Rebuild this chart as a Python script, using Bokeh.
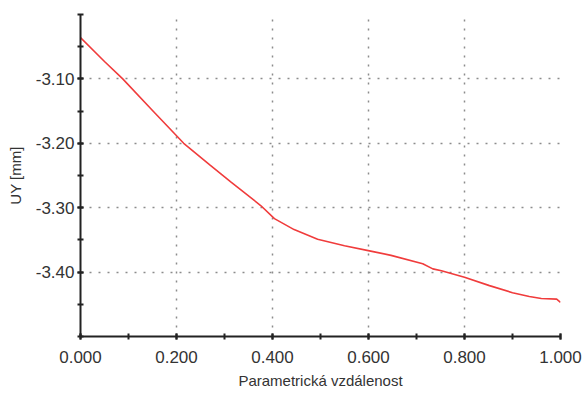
from bokeh.plotting import figure
from bokeh.models import FixedTicker, PrintfTickFormatter, Range1d
from bokeh.embed import file_html
from bokeh.resources import INLINE

x_vals = [0.0, 0.05, 0.088, 0.15, 0.215, 0.27, 0.313, 0.376, 0.404, 0.445, 0.494,
          0.55, 0.602, 0.647, 0.713, 0.734, 0.752, 0.80, 0.852, 0.90, 0.935, 0.96,
          0.992, 1.0]
uy_vals = [-3.036, -3.073, -3.100, -3.149, -3.200, -3.234, -3.260, -3.297, -3.317,
           -3.334, -3.349, -3.359, -3.367, -3.374, -3.387, -3.395, -3.398, -3.408,
           -3.421, -3.432, -3.438, -3.441, -3.442, -3.447]

x_major = [0.0, 0.2, 0.4, 0.6, 0.8, 1.0]
x_minor = [0.0, 0.1, 0.2, 0.3, 0.4, 0.5, 0.6, 0.7, 0.8, 0.9, 1.0]
y_major = [-3.4, -3.3, -3.2, -3.1]
y_minor = [-3.5, -3.45, -3.4, -3.35, -3.3, -3.25, -3.2, -3.15, -3.1, -3.05, -3.0]

FONT = "Liberation Sans"

p = figure(width=584, height=396, output_backend="svg", toolbar_location=None,
           x_range=Range1d(0, 1), y_range=Range1d(-3.5, -3.0),
           min_border_left=80, min_border_right=24, min_border_top=14, min_border_bottom=60)
p.outline_line_color = None
p.background_fill_color = "white"
p.border_fill_color = "white"

p.line(x_vals, uy_vals, line_color="#f03c3c", line_width=1.6)

p.xaxis.ticker = FixedTicker(ticks=x_major, minor_ticks=x_minor)
p.yaxis.ticker = FixedTicker(ticks=y_major, minor_ticks=y_minor)
p.xaxis.formatter = PrintfTickFormatter(format="%.3f")
p.yaxis.formatter = PrintfTickFormatter(format="%.2f")

for ax in (p.xaxis, p.yaxis):
    ax.axis_line_color = "#222222"
    ax.axis_line_width = 2
    ax.major_tick_line_color = "#222222"
    ax.minor_tick_line_color = "#222222"
    ax.major_tick_line_width = 2
    ax.minor_tick_line_width = 2
    ax.major_tick_in = 3
    ax.major_tick_out = 3
    ax.minor_tick_in = 3
    ax.minor_tick_out = 3
    ax.major_label_text_font = FONT
    ax.major_label_text_font_size = "17px"
    ax.major_label_text_color = "#333333"
    ax.axis_label_text_font = FONT
    ax.axis_label_text_font_size = "15px"
    ax.axis_label_text_font_style = "normal"
    ax.axis_label_text_color = "#333333"

p.xaxis.axis_label = "Parametrická vzdálenost"
p.yaxis.axis_label = "UY [mm]"
p.xaxis.major_label_standoff = 11
p.yaxis.major_label_standoff = 3
p.xaxis.axis_label_standoff = 6
p.yaxis.axis_label_standoff = 9

for g in (p.xgrid, p.ygrid):
    g.grid_line_color = "#8c8c8c"
    g.grid_line_dash = "2 7"
    g.grid_line_width = 1.5
p.xgrid.ticker = FixedTicker(ticks=[0.2, 0.4, 0.6, 0.8, 1.0])
p.ygrid.ticker = FixedTicker(ticks=y_major)

open("out.html", "w").write(file_html(p, INLINE))
